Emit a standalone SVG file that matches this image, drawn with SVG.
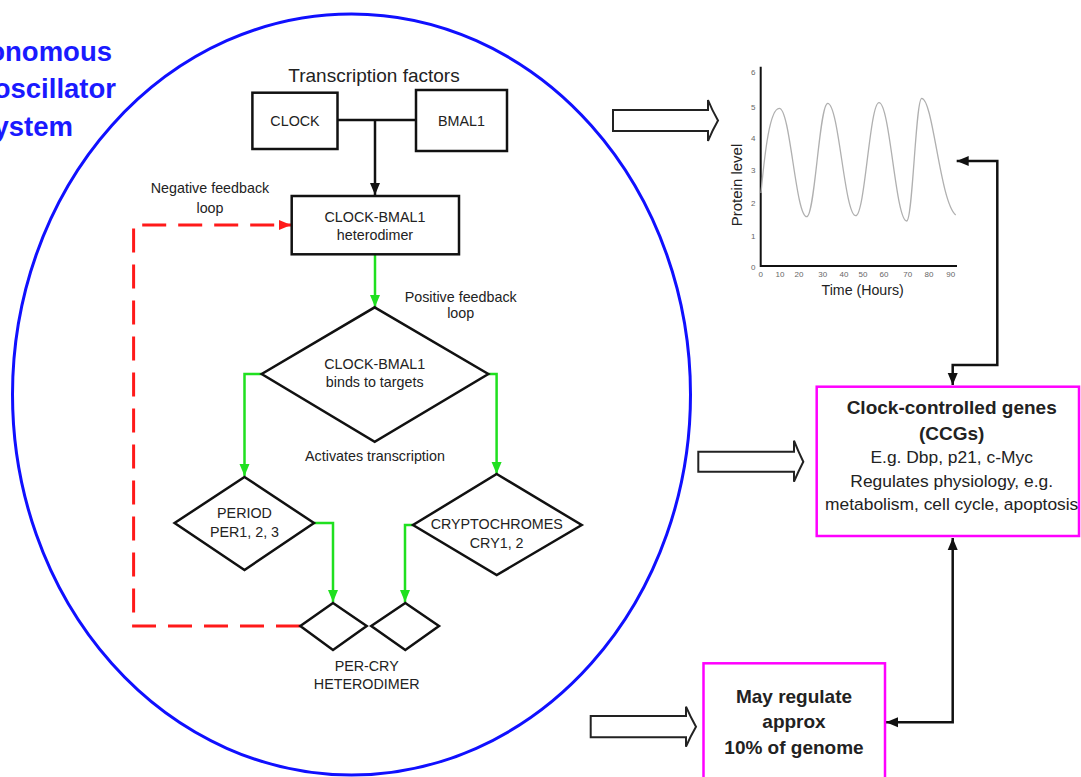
<svg xmlns="http://www.w3.org/2000/svg" width="1081" height="777" viewBox="0 0 1081 777">
<defs>
<style>
.t{font-family:"Liberation Sans",Arial,sans-serif;fill:#222;text-anchor:middle}
.s{font-size:14.3px}
.b{font-weight:bold}
.box{fill:#fff;stroke:#111;stroke-width:2.5}
.mbox{fill:#fff;stroke:#ff00ff;stroke-width:2.5}
.g{fill:none;stroke:#1fe01f;stroke-width:2.5}
.k{fill:none;stroke:#111;stroke-width:2.5}
.blk{fill:#fff;stroke:#222;stroke-width:2}
.ttl{font-family:"Liberation Sans",Arial,sans-serif;font-weight:bold;font-size:27.5px;fill:#1a1aff;text-anchor:end}
.tick{font-family:"Liberation Sans",Arial,sans-serif;font-size:8px;fill:#666;text-anchor:middle}
</style>
<marker id="ag" markerUnits="userSpaceOnUse" markerWidth="13" markerHeight="13" viewBox="0 0 13 13" refX="12" refY="6.5" orient="auto"><path d="M0,1.5 L12,6.5 L0,11.5 Z" fill="#1fe01f"/></marker>
<marker id="ak" markerUnits="userSpaceOnUse" markerWidth="13" markerHeight="13" viewBox="0 0 13 13" refX="12" refY="6.5" orient="auto-start-reverse"><path d="M0,1.5 L12,6.5 L0,11.5 Z" fill="#111"/></marker>
<marker id="ar" markerUnits="userSpaceOnUse" markerWidth="13" markerHeight="13" viewBox="0 0 13 13" refX="12" refY="6.5" orient="auto"><path d="M0,1.5 L12,6.5 L0,11.5 Z" fill="#ff1a1a"/></marker>
</defs>
<rect width="1081" height="777" fill="#fff"/>

<g id="title">
<text class="ttl" x="112" y="61">onomous</text>
<text class="ttl" x="116" y="98">oscillator</text>
<text class="ttl" x="73" y="136">ystem</text>
</g>

<g id="cell">
<ellipse cx="351.5" cy="394.5" rx="339" ry="380.5" fill="none" stroke="#1010ff" stroke-width="3"/>
</g>

<g id="connectors">
<path class="k" d="M337.5,120 H416"/>
<path class="k" d="M375,120 V195" marker-end="url(#ak)"/>
<path class="g" d="M375,254.3 V307" marker-end="url(#ag)"/>
<path class="g" d="M261.7,374 H244.5 V476" marker-end="url(#ag)"/>
<path class="g" d="M488.3,374 H496.6 V474" marker-end="url(#ag)"/>
<path class="g" d="M314,523 H333 V602" marker-end="url(#ag)"/>
<path class="g" d="M413,525 H405 V602" marker-end="url(#ag)"/>
<path d="M300,626 H133.6 V225 H291" fill="none" stroke="#ff1a1a" stroke-width="3" stroke-dasharray="24 12" marker-end="url(#ar)"/>
<path class="k" d="M956.7,161 H997.3 V365 H952.7 V385" marker-start="url(#ak)" marker-end="url(#ak)"/>
<path class="k" d="M952.7,538 V722.3 H886" marker-start="url(#ak)" marker-end="url(#ak)"/>
<path class="blk" d="M613,110 H708 V100 Q712,110 718,120.5 Q712,131 708,141 V131 H613 Z"/>
<path class="blk" d="M698.3,451.7 H794 V440.7 Q798,451 803.3,461.7 Q798,472 794,481.7 V471.7 H698.3 Z"/>
<path class="blk" d="M590.7,716 H686 V706.7 Q690,716 696,726.7 Q690,737 686,746.7 V737.3 H590.7 Z"/>
</g>

<g id="tf-label">
<text class="t" style="font-size:19px" x="374" y="81.7">Transcription factors</text>
</g>

<g id="clock">
<rect class="box" x="252.4" y="92.7" width="85.1" height="56.3"/>
<text class="t s" x="295" y="126">CLOCK</text>
</g>

<g id="bmal1">
<rect class="box" x="416" y="90" width="91" height="61"/>
<text class="t s" x="461.4" y="126">BMAL1</text>
</g>

<g id="heterodimer">
<rect class="box" x="291.7" y="196" width="167.3" height="58.3"/>
<text class="t s" x="375" y="221.7">CLOCK-BMAL1</text>
<text class="t s" x="375" y="240">heterodimer</text>
</g>

<g id="neg-label">
<text class="t s" x="210" y="193">Negative feedback</text>
<text class="t s" x="210" y="213">loop</text>
</g>

<g id="pos-label">
<text class="t s" x="460.7" y="301.7">Positive feedback</text>
<text class="t s" x="460.7" y="318">loop</text>
</g>

<g id="binds">
<polygon class="box" points="374.7,307.3 488.3,374 374.7,441.7 261.7,374"/>
<text class="t s" x="374.7" y="369">CLOCK-BMAL1</text>
<text class="t s" x="374.7" y="387">binds to targets</text>
</g>

<g id="activates">
<text class="t s" x="375" y="461">Activates transcription</text>
</g>

<g id="period">
<polygon class="box" points="244.5,477 314,523 244.5,570 174.6,523"/>
<text class="t s" x="244.5" y="518">PERIOD</text>
<text class="t s" x="244.5" y="537">PER1, 2, 3</text>
</g>

<g id="cry">
<polygon class="box" points="496.7,474 581.7,525 496.7,575 413,525"/>
<text class="t s" x="496.7" y="529">CRYPTOCHROMES</text>
<text class="t s" x="496.7" y="548">CRY1, 2</text>
</g>

<g id="percry">
<polygon class="box" points="333,603 366.7,626 333,650 300.3,626"/>
<polygon class="box" points="405.3,603 439,626 405.3,650 371.2,626"/>
<text class="t s" x="366.7" y="670.7">PER-CRY</text>
<text class="t s" x="366.7" y="689">HETERODIMER</text>
</g>

<g id="chart">
<path d="M760.7,66.7 V266 H957" fill="none" stroke="#111" stroke-width="2"/>
<text class="tick" x="753.3" y="74.5">6</text>
<text class="tick" x="753.3" y="109.5">5</text>
<text class="tick" x="753.3" y="141">4</text>
<text class="tick" x="753.3" y="173">3</text>
<text class="tick" x="753.3" y="206">2</text>
<text class="tick" x="753.3" y="239">1</text>
<text class="tick" x="753.3" y="270">0</text>
<text class="tick" x="760.7" y="277">0</text>
<text class="tick" x="780" y="277">10</text>
<text class="tick" x="799" y="277">20</text>
<text class="tick" x="822.7" y="277">30</text>
<text class="tick" x="844" y="277">40</text>
<text class="tick" x="863" y="277">50</text>
<text class="tick" x="884" y="277">60</text>
<text class="tick" x="907.7" y="277">70</text>
<text class="tick" x="929" y="277">80</text>
<text class="tick" x="950.7" y="277">90</text>
<path d="M761,193 C765,150 770,108.3 779.3,108.3 C790.3,108.3 795.7,216.7 806.7,216.7 C815,216.7 819.3,103.3 827.7,103.3 C838.9,103.3 844.5,215.7 855.7,215.7 C865,215.7 869.7,102.7 879,102.7 C890,102.7 895.6,221 906.7,221 C912.7,221 915.7,98.3 921.7,98.3 C933,98.3 940,202 955.7,215" fill="none" stroke="#b0b0b0" stroke-width="1.3"/>
<text class="t" style="font-size:15px" transform="translate(742,185) rotate(-90)" x="0" y="0">Protein level</text>
<text class="t" style="font-size:14.2px" x="862.7" y="295">Time (Hours)</text>
</g>

<g id="ccg">
<rect class="mbox" x="816.7" y="386.7" width="262.3" height="149.3"/>
<text class="t b" style="font-size:19px" x="951.7" y="414">Clock-controlled genes</text>
<text class="t b" style="font-size:19px" x="951.7" y="440">(CCGs)</text>
<text class="t" style="font-size:17.4px" x="951.7" y="463.3">E.g. Dbp, p21, c-Myc</text>
<text class="t" style="font-size:17.4px" x="951.7" y="486.7">Regulates physiology, e.g.</text>
<text class="t" style="font-size:17.4px" x="951.7" y="510">metabolism, cell cycle, apoptosis</text>
</g>

<g id="genome">
<rect class="mbox" x="703.5" y="663.3" width="181.5" height="140"/>
<text class="t b" style="font-size:19px" x="794" y="703.3">May regulate</text>
<text class="t b" style="font-size:19px" x="794" y="728.3">approx</text>
<text class="t b" style="font-size:19px" x="794" y="754">10% of genome</text>
</g>
</svg>
